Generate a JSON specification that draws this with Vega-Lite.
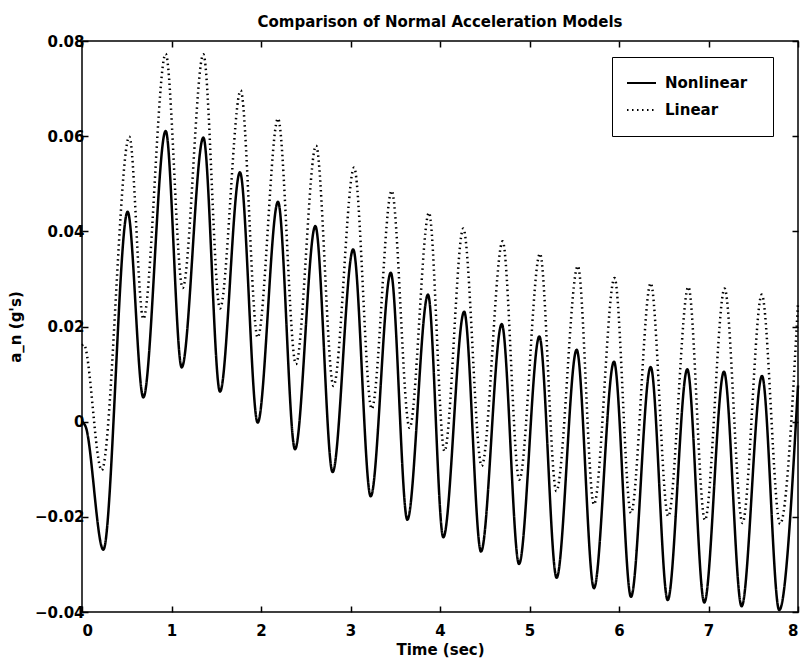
{
  "$schema": "https://vega.github.io/schema/vega-lite/v6.json",
  "width": 716,
  "height": 571,
  "autosize": "none",
  "padding": {"left": 82, "top": 41, "right": 9, "bottom": 57},
  "background": "white",
  "title": {"text": "Comparison of Normal Acceleration Models", "font": "DejaVu Sans", "fontSize": 15, "fontWeight": "bold", "color": "black", "anchor": "middle", "offset": 4},
  "config": {
    "view": {"stroke": "black", "strokeWidth": 1.5},
    "axis": {"domain": false, "grid": false, "tickSize": -6, "tickColor": "black", "tickWidth": 1.5, "labelFont": "DejaVu Sans", "labelFontSize": 15, "labelFontWeight": "bold", "labelColor": "black", "titleFont": "DejaVu Sans", "titleFontSize": 15, "titleFontWeight": "bold", "titleColor": "black"}
  },
  "data": {"values": [
    {"t": 0, "v": 0, "model": "Nonlinear"},
    {"t": 0.04, "v": -0.001, "model": "Nonlinear"},
    {"t": 0.238, "v": -0.0269, "model": "Nonlinear"},
    {"t": 0.51, "v": 0.0441, "model": "Nonlinear"},
    {"t": 0.685, "v": 0.0051, "model": "Nonlinear"},
    {"t": 0.935, "v": 0.0611, "model": "Nonlinear"},
    {"t": 1.114, "v": 0.0114, "model": "Nonlinear"},
    {"t": 1.356, "v": 0.0597, "model": "Nonlinear"},
    {"t": 1.542, "v": 0.0063, "model": "Nonlinear"},
    {"t": 1.765, "v": 0.0524, "model": "Nonlinear"},
    {"t": 1.963, "v": -0.0002, "model": "Nonlinear"},
    {"t": 2.19, "v": 0.0462, "model": "Nonlinear"},
    {"t": 2.38, "v": -0.0058, "model": "Nonlinear"},
    {"t": 2.607, "v": 0.0411, "model": "Nonlinear"},
    {"t": 2.8, "v": -0.0106, "model": "Nonlinear"},
    {"t": 3.03, "v": 0.0362, "model": "Nonlinear"},
    {"t": 3.226, "v": -0.0157, "model": "Nonlinear"},
    {"t": 3.45, "v": 0.0313, "model": "Nonlinear"},
    {"t": 3.635, "v": -0.0206, "model": "Nonlinear"},
    {"t": 3.866, "v": 0.0267, "model": "Nonlinear"},
    {"t": 4.037, "v": -0.0243, "model": "Nonlinear"},
    {"t": 4.27, "v": 0.0231, "model": "Nonlinear"},
    {"t": 4.458, "v": -0.0273, "model": "Nonlinear"},
    {"t": 4.69, "v": 0.0205, "model": "Nonlinear"},
    {"t": 4.883, "v": -0.0299, "model": "Nonlinear"},
    {"t": 5.11, "v": 0.0179, "model": "Nonlinear"},
    {"t": 5.303, "v": -0.0328, "model": "Nonlinear"},
    {"t": 5.527, "v": 0.0151, "model": "Nonlinear"},
    {"t": 5.72, "v": -0.035, "model": "Nonlinear"},
    {"t": 5.944, "v": 0.0126, "model": "Nonlinear"},
    {"t": 6.134, "v": -0.0368, "model": "Nonlinear"},
    {"t": 6.354, "v": 0.0115, "model": "Nonlinear"},
    {"t": 6.544, "v": -0.0375, "model": "Nonlinear"},
    {"t": 6.763, "v": 0.011, "model": "Nonlinear"},
    {"t": 6.953, "v": -0.038, "model": "Nonlinear"},
    {"t": 7.173, "v": 0.0105, "model": "Nonlinear"},
    {"t": 7.37, "v": -0.0388, "model": "Nonlinear"},
    {"t": 7.598, "v": 0.0096, "model": "Nonlinear"},
    {"t": 7.79, "v": -0.0396, "model": "Nonlinear"},
    {"t": 8.0, "v": 0.0076, "model": "Nonlinear"},
    {"t": 0, "v": 0.016, "model": "Linear"},
    {"t": 0.02, "v": 0.0162, "model": "Linear"},
    {"t": 0.22, "v": -0.0102, "model": "Linear"},
    {"t": 0.529, "v": 0.0599, "model": "Linear"},
    {"t": 0.685, "v": 0.0216, "model": "Linear"},
    {"t": 0.935, "v": 0.0773, "model": "Linear"},
    {"t": 1.125, "v": 0.0281, "model": "Linear"},
    {"t": 1.356, "v": 0.0772, "model": "Linear"},
    {"t": 1.542, "v": 0.0238, "model": "Linear"},
    {"t": 1.773, "v": 0.0696, "model": "Linear"},
    {"t": 1.963, "v": 0.0177, "model": "Linear"},
    {"t": 2.19, "v": 0.0637, "model": "Linear"},
    {"t": 2.39, "v": 0.0121, "model": "Linear"},
    {"t": 2.615, "v": 0.058, "model": "Linear"},
    {"t": 2.81, "v": 0.0075, "model": "Linear"},
    {"t": 3.04, "v": 0.0534, "model": "Linear"},
    {"t": 3.237, "v": 0.0027, "model": "Linear"},
    {"t": 3.46, "v": 0.0485, "model": "Linear"},
    {"t": 3.66, "v": -0.0013, "model": "Linear"},
    {"t": 3.877, "v": 0.0439, "model": "Linear"},
    {"t": 4.05, "v": -0.0062, "model": "Linear"},
    {"t": 4.26, "v": 0.0406, "model": "Linear"},
    {"t": 4.466, "v": -0.0093, "model": "Linear"},
    {"t": 4.7, "v": 0.0379, "model": "Linear"},
    {"t": 4.886, "v": -0.0122, "model": "Linear"},
    {"t": 5.117, "v": 0.0353, "model": "Linear"},
    {"t": 5.3, "v": -0.0146, "model": "Linear"},
    {"t": 5.54, "v": 0.0327, "model": "Linear"},
    {"t": 5.72, "v": -0.0174, "model": "Linear"},
    {"t": 5.95, "v": 0.0302, "model": "Linear"},
    {"t": 6.134, "v": -0.0192, "model": "Linear"},
    {"t": 6.354, "v": 0.0291, "model": "Linear"},
    {"t": 6.55, "v": -0.0199, "model": "Linear"},
    {"t": 6.775, "v": 0.0283, "model": "Linear"},
    {"t": 6.96, "v": -0.0207, "model": "Linear"},
    {"t": 7.18, "v": 0.028, "model": "Linear"},
    {"t": 7.38, "v": -0.0213, "model": "Linear"},
    {"t": 7.595, "v": 0.0267, "model": "Linear"},
    {"t": 7.8, "v": -0.0215, "model": "Linear"},
    {"t": 8.0, "v": 0.025, "model": "Linear"}
  ]},
  "layer": [
    {
      "mark": {"type": "line", "interpolate": "monotone", "color": "black", "strokeWidth": 2.5},
      "encoding": {
        "x": {"field": "t", "type": "quantitative", "scale": {"domain": [0, 8], "nice": false, "zero": false},
              "axis": {"orient": "bottom", "title": "Time (sec)", "values": [0, 1, 2, 3, 4, 5, 6, 7, 8], "format": "d", "labelPadding": 17, "titlePadding": 4}},
        "y": {"field": "v", "type": "quantitative", "scale": {"domain": [-0.04, 0.08], "nice": false, "zero": false},
              "axis": {"orient": "left", "title": "a_n (g's)", "values": [-0.04, -0.02, 0, 0.02, 0.04, 0.06, 0.08], "labelExpr": "datum.value == 0 ? '0' : format(datum.value, '.2f')", "labelPadding": 4, "titlePadding": 11}},
        "strokeDash": {"field": "model", "type": "nominal",
          "scale": {"domain": ["Nonlinear", "Linear"], "range": [[1, 0], [1.5, 3.5]]},
          "legend": {"orient": "none", "legendX": 530, "legendY": 16, "title": null, "strokeColor": "black", "fillColor": "white", "padding": 14,
                     "symbolType": "stroke", "symbolSize": 841, "symbolStrokeColor": "black", "symbolStrokeWidth": 2,
                     "labelFont": "DejaVu Sans", "labelFontSize": 15, "labelFontWeight": "bold", "labelColor": "black", "labelOffset": 8,
                     "clipHeight": 24, "rowPadding": 3, "labelExpr": "datum.label + '\u2800'"}}
      }
    },
    {
      "mark": {"type": "line", "opacity": 0},
      "encoding": {
        "x": {"field": "t", "type": "quantitative", "axis": {"orient": "top", "labels": false, "title": null, "values": [0, 1, 2, 3, 4, 5, 6, 7, 8]}},
        "y": {"field": "v", "type": "quantitative", "axis": {"orient": "right", "labels": false, "title": null, "values": [-0.04, -0.02, 0, 0.02, 0.04, 0.06, 0.08]}},
        "detail": {"field": "model"}
      }
    }
  ],
  "resolve": {"axis": {"x": "independent", "y": "independent"}}
}
